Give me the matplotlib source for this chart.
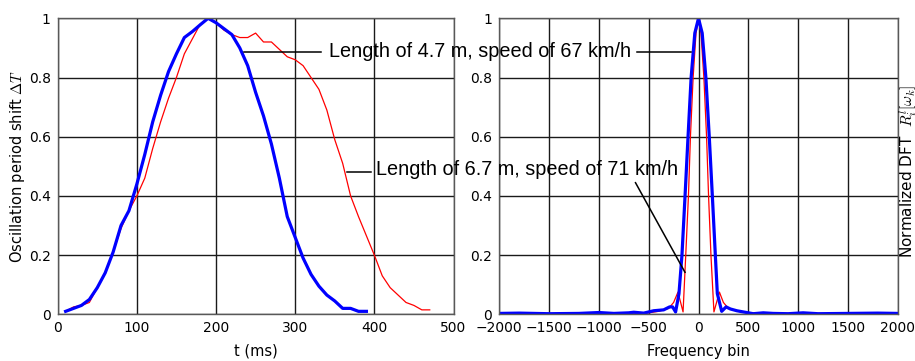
import numpy as np
import matplotlib
matplotlib.use('Agg')
import matplotlib.pyplot as plt
from matplotlib.lines import Line2D

plt.rcParams['mathtext.fontset'] = 'cm'

# left panel: oscillation period shift over time
t_short = [10, 20, 30, 40, 50, 60, 70, 80, 90, 100, 110, 120, 130, 140, 150, 160, 170, 180, 190,
           200, 210, 220, 230, 240, 250, 260, 270, 280, 290, 300, 310, 320, 330, 340, 350, 360,
           370, 380, 390]
shift_short = [0.01, 0.02, 0.03, 0.05, 0.09, 0.14, 0.21, 0.30, 0.35, 0.44, 0.54, 0.65, 0.74, 0.82,
               0.88, 0.935, 0.955, 0.978, 1.0, 0.985, 0.965, 0.945, 0.90, 0.84, 0.75, 0.67, 0.575,
               0.46, 0.33, 0.26, 0.19, 0.135, 0.095, 0.065, 0.045, 0.02, 0.02, 0.01, 0.01]

t_long = [10, 20, 30, 40, 50, 60, 70, 80, 90, 100, 110, 120, 130, 140, 150, 160, 170, 180, 190,
          200, 210, 220, 230, 240, 250, 260, 270, 280, 290, 300, 310, 320, 330, 340, 350, 360,
          370, 380, 390, 400, 410, 420, 430, 440, 450, 460, 470]
shift_long = [0.01, 0.025, 0.03, 0.04, 0.09, 0.14, 0.21, 0.29, 0.35, 0.40, 0.46, 0.56, 0.65, 0.73,
              0.80, 0.88, 0.93, 0.98, 1.0, 0.985, 0.96, 0.945, 0.935, 0.935, 0.95, 0.92, 0.92,
              0.895, 0.87, 0.86, 0.84, 0.80, 0.76, 0.69, 0.59, 0.51, 0.40, 0.33, 0.265, 0.20,
              0.13, 0.09, 0.065, 0.04, 0.03, 0.015, 0.015]

# right panel: normalized DFT
bins_long = [-2000, -1500, -1000, -700, -500, -400, -300, -250, -206, -155, -128, -101, -81, -54,
             -25, 0, 25, 54, 81, 101, 125, 155, 210, 250, 300, 400, 500, 700, 1000, 1500, 2000]
dft_long = [0.002, 0.002, 0.003, 0.003, 0.005, 0.01, 0.02, 0.04, 0.075, 0.008, 0.2, 0.4, 0.6, 0.8,
            0.95, 1.0, 0.95, 0.8, 0.6, 0.4, 0.2, 0.008, 0.075, 0.04, 0.02, 0.01, 0.005, 0.003,
            0.003, 0.002, 0.002]

bins_short = [-2000, -1800, -1500, -1200, -1000, -850, -700, -650, -550, -450, -350, -290, -260,
              -230, -196, -166, -135, -105, -74, -37, 0, 37, 74, 108, 139, 169, 189, 233, 277,
              320, 385, 450, 550, 650, 750, 900, 1050, 1200, 1500, 1800, 2000]
dft_short = [0.003, 0.004, 0.002, 0.003, 0.006, 0.003, 0.005, 0.007, 0.004, 0.012, 0.015, 0.025,
             0.025, 0.008, 0.07, 0.2, 0.4, 0.6, 0.8, 0.95, 1.0, 0.95, 0.8, 0.6, 0.4, 0.2, 0.07,
             0.01, 0.025, 0.018, 0.012, 0.008, 0.002, 0.005, 0.003, 0.002, 0.005, 0.002, 0.003,
             0.004, 0.003]

yticks = [0, 0.2, 0.4, 0.6, 0.8, 1]
ytick_labels = ['0', '0.2', '0.4', '0.6', '0.8', '1']
left_xticks = [0, 100, 200, 300, 400, 500]
right_xticks = [-2000, -1500, -1000, -500, 0, 500, 1000, 1500, 2000]

W, H = 915, 361
fig = plt.figure(figsize=(W / 100, H / 100), dpi=100)

def fx(px):
    return px / W

def fy(py):
    return 1 - py / H

ax1 = fig.add_axes([fx(57.7), fy(314.3), fx(453.5) - fx(57.7), fy(18.3) - fy(314.3)])
ax2 = fig.add_axes([fx(499.3), fy(314.3), fx(897.7) - fx(499.3), fy(18.3) - fy(314.3)])

ax1.plot(t_long, shift_long, color='red', lw=0.9)
ax1.plot(t_short, shift_short, color='blue', lw=2.3)
ax1.set_xlim(0, 500)
ax1.set_xticks(left_xticks)
ax1.set_xlabel('t (ms)', fontsize=10.5, labelpad=6)
ax1.set_ylabel(r'Oscillation period shift $\Delta T$', fontsize=10.5, labelpad=1)

ax2.plot(bins_long, dft_long, color='red', lw=0.9)
ax2.plot(bins_short, dft_short, color='blue', lw=2.3)
ax2.set_xlim(-2000, 2000)
ax2.set_xticks(right_xticks)
ax2.set_xlabel('Frequency bin', fontsize=10.5, labelpad=6)

for ax in (ax1, ax2):
    ax.set_ylim(0, 1)
    ax.set_yticks(yticks)
    ax.set_yticklabels(ytick_labels)
    ax.grid(True, color='0.1', lw=1)
    ax.tick_params(length=0, labelsize=10, pad=5)
    for s in ax.spines.values():
        s.set_color('0.35')
        s.set_linewidth(1)

fig.text(fx(908), fy(258), r'Normalized DFT  $R^{l}_{i}[\omega_k]$', rotation=90,
         ha='center', va='bottom', fontsize=11)

# annotations spanning both panels
ann_font = dict(fontsize=14.3, family='Liberation Sans')
fig.text(fx(329), fy(57.3), 'Length of 4.7 m, speed of 67 km/h', ha='left', va='baseline', **ann_font)
fig.text(fx(376.5), fy(175), 'Length of 6.7 m, speed of 71 km/h', ha='left', va='baseline', **ann_font)

lines = [((244, 321), (52, 52)),
         ((637, 691), (51.7, 51.7)),
         ((347, 371), (171.7, 171.7)),
         ((635.5, 685), (182.7, 272.3))]
for xs, ys in lines:
    fig.add_artist(Line2D([fx(xs[0]), fx(xs[1])], [fy(ys[0]), fy(ys[1])],
                          color='black', lw=1.1, transform=fig.transFigure))

fig.savefig('out.png', dpi=100)
